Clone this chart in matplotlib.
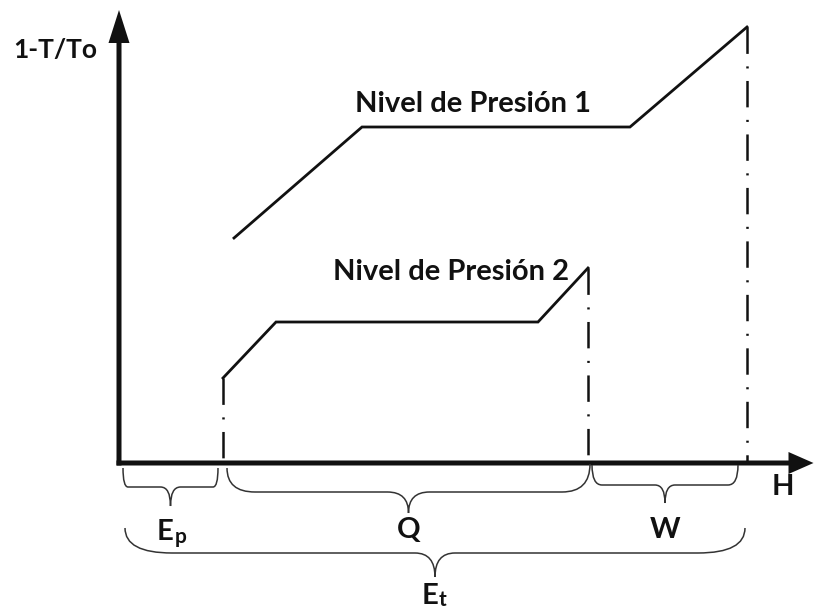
import numpy as np
import matplotlib
matplotlib.use("Agg")
import matplotlib.pyplot as plt
from matplotlib.path import Path
from matplotlib.patches import PathPatch

plt.rcParams['font.family'] = ['Lato', 'DejaVu Sans']
plt.rcParams['lines.scale_dashes'] = False

# Curve vertices (H, 1-T/To) in arbitrary units
level1_H = [1.15, 2.43, 5.11, 6.28]
level1_T = [2.25, 3.36, 3.36, 4.36]
level2_H = [1.04, 1.57, 4.19, 4.69]
level2_T = [0.85, 1.41, 1.41, 1.95]

# Brace spans along H
brace_names = ['Ep', 'Q', 'W', 'Et']
brace_start = [0.04, 1.08, 4.73, 0.06]
brace_end = [0.99, 4.71, 6.19, 6.26]

fig = plt.figure(figsize=(8.14, 6.10), dpi=100)
ax = fig.add_axes([0, 0, 1, 1])
ax.set_xlim(-1.19, 6.95)
ax.set_ylim(-1.47, 4.63)
ax.axis('off')

ink = '#111111'

# axes with arrows
ax.arrow(-0.025, 0, 6.97, 0, width=0.05, head_width=0.22, head_length=0.25,
         length_includes_head=True, color=ink, lw=0)
ax.arrow(0, -0.025, 0, 4.555, width=0.05, head_width=0.21, head_length=0.33,
         length_includes_head=True, color=ink, lw=0)

# pressure level curves
ax.plot(level1_H, level1_T, color=ink, lw=2.0, solid_joinstyle='miter')
ax.plot(level2_H, level2_T, color=ink, lw=2.0, solid_joinstyle='miter')

# dash-dot drop lines to the H axis
dashdot = (0, (19, 9, 1.5, 9))
for h, t in [(level2_H[0], level2_T[0]), (level2_H[-1], level2_T[-1]),
             (level1_H[-1], level1_T[-1])]:
    ax.plot([h, h], [t, 0.02], color=ink, lw=1.8, linestyle=dashdot)


def brace(x0, x1, ytop, ymid, ytip, r, r2, ytop_right=None):
    if ytop_right is None:
        ytop_right = ytop
    xc = (x0 + x1) / 2
    verts = [(x0, ytop), (x0, ymid), (x0 + r, ymid),
             (xc - r2, ymid), (xc, ymid), (xc, ytip),
             (xc, ymid), (xc + r2, ymid),
             (x1 - r, ymid), (x1, ymid), (x1, ytop_right)]
    codes = [Path.MOVETO, Path.CURVE3, Path.CURVE3,
             Path.LINETO, Path.CURVE3, Path.CURVE3,
             Path.CURVE3, Path.CURVE3,
             Path.LINETO, Path.CURVE3, Path.CURVE3]
    ax.add_patch(PathPatch(Path(verts, codes), fill=False, ec='#333333', lw=1.1))
    return xc


# brace geometry: (ytop, ymid, ytip, end radius, tip radius, right top)
brace_shape = {
    'Ep': (-0.05, -0.24, -0.43, 0.05, 0.10, -0.05),
    'Q': (-0.05, -0.29, -0.50, 0.28, 0.21, -0.01),
    'W': (-0.02, -0.22, -0.40, 0.10, 0.10, -0.02),
    'Et': (-0.65, -0.90, -1.14, 0.47, 0.20, -0.65),
}
centers = {}
for name, a, b in zip(brace_names, brace_start, brace_end):
    ytop, ymid, ytip, r, r2, ytr = brace_shape[name]
    centers[name] = brace(a, b, ytop, ymid, ytip, r, r2, ytr)

lab = dict(color=ink, fontweight='bold')
fs = 21

ax.text(-1.06, 4.05, '1-T/To', fontsize=19, ha='left', va='baseline', **lab)
ax.text(6.64, -0.32, 'H', fontsize=fs, ha='center', va='baseline', **lab)
ax.text(2.36, 3.51, 'Nivel de Presión 1', fontsize=fs, ha='left', va='baseline', **lab)
ax.text(2.14, 1.83, 'Nivel de Presión 2', fontsize=fs, ha='left', va='baseline', **lab)

ax.text(centers['Q'], -0.75, 'Q', fontsize=fs, ha='center', va='baseline', **lab)
ax.text(centers['W'], -0.75, 'W', fontsize=fs, ha='center', va='baseline', **lab)
# subscripted labels
ax.text(centers['Ep'] + 0.03, -0.77, 'E', fontsize=fs, ha='right', va='baseline', **lab)
ax.text(centers['Ep'] + 0.04, -0.80, 'p', fontsize=15, ha='left', va='baseline', **lab)
ax.text(centers['Et'] + 0.03, -1.41, 'E', fontsize=fs, ha='right', va='baseline', **lab)
ax.text(centers['Et'] + 0.04, -1.43, 't', fontsize=15, ha='left', va='baseline', **lab)

fig.savefig('out.png', dpi=100)
